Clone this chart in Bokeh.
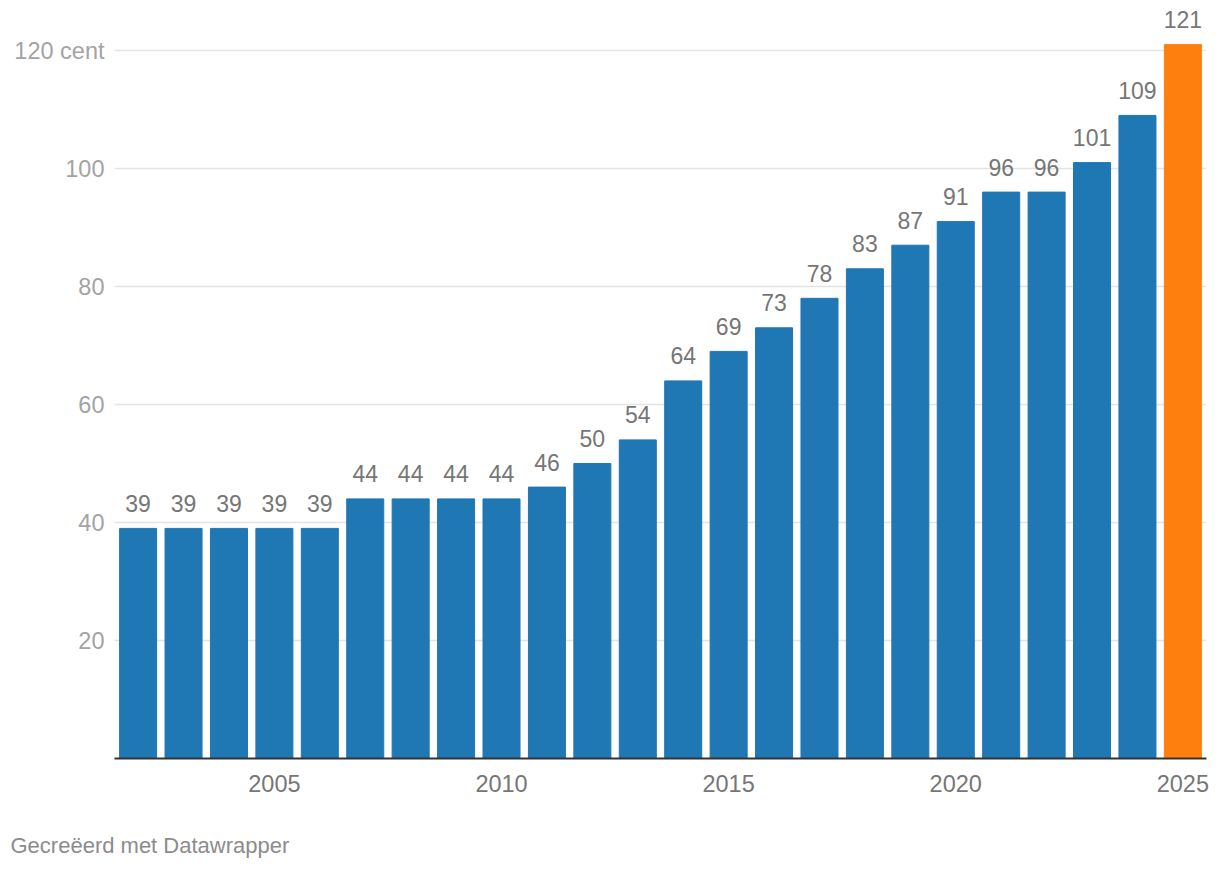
from bokeh.plotting import figure
from bokeh.models import ColumnDataSource, Range1d, FixedTicker, CustomJSTickFormatter, Title
from bokeh.core.properties import value
from bokeh.embed import file_html
from bokeh.resources import INLINE

years = list(range(2002, 2026))
cents = [39, 39, 39, 39, 39, 44, 44, 44, 44, 46, 50, 54, 64, 69, 73, 78, 83, 87, 91, 96, 96, 101, 109, 121]
colors = ["#1f77b4"] * 23 + ["#ff7f0e"]
labels = [str(v) for v in cents]
y_ticks = [20, 40, 60, 80, 100, 120]
x_ticks = [2005, 2010, 2015, 2020, 2025]

FONT = "Liberation Sans"

src = ColumnDataSource(dict(x=years, top=cents, color=colors, label=labels))

p = figure(width=1214, height=864, frame_width=1092, frame_height=750,
           output_backend="svg", toolbar_location=None,
           x_range=Range1d(2001.48, 2025.52), y_range=Range1d(0, 127.12),
           min_border_left=114, min_border_right=8, min_border_top=8, min_border_bottom=10)
p.outline_line_color = None
p.background_fill_color = "white"
p.border_fill_color = "white"

p.vbar(x="x", top="top", width=0.815, bottom=0, color="color", source=src)
p.text(x="x", y="top", text="label", source=src, text_align="center", text_baseline="alphabetic",
       y_offset=-25, text_font=value(FONT), text_font_size="23px", text_color="#767676")

# y axis
p.yaxis.ticker = FixedTicker(ticks=y_ticks)
p.yaxis.formatter = CustomJSTickFormatter(code="return tick == 120 ? '120 cent' : tick.toString();")
p.yaxis.axis_line_color = None
p.yaxis.major_tick_line_color = None
p.yaxis.minor_tick_line_color = None
p.yaxis.major_label_text_font = FONT
p.yaxis.major_label_text_font_size = "23.5px"
p.yaxis.major_label_text_color = "#a3a3a3"
p.yaxis.major_label_standoff = 4
p.ygrid.ticker = FixedTicker(ticks=y_ticks)
p.ygrid.grid_line_color = "#e3e3e3"
p.ygrid.grid_line_width = 1.5

# x axis
p.xaxis.ticker = FixedTicker(ticks=x_ticks)
p.xaxis.axis_line_color = "#333333"
p.xaxis.axis_line_width = 2
p.xaxis.major_tick_line_color = None
p.xaxis.minor_tick_line_color = None
p.xaxis.major_label_text_font = FONT
p.xaxis.major_label_text_font_size = "23.5px"
p.xaxis.major_label_text_color = "#767676"
p.xaxis.major_label_standoff = 10
p.xgrid.grid_line_color = None

foot = Title(text="Gecreëerd met Datawrapper", align="left", text_font=FONT,
             text_font_size="22px", text_color="#8c8c8c", text_font_style="normal",
             offset=-104, standoff=73)
p.add_layout(foot, "below")

open("out.html", "w").write(file_html(p, INLINE))
